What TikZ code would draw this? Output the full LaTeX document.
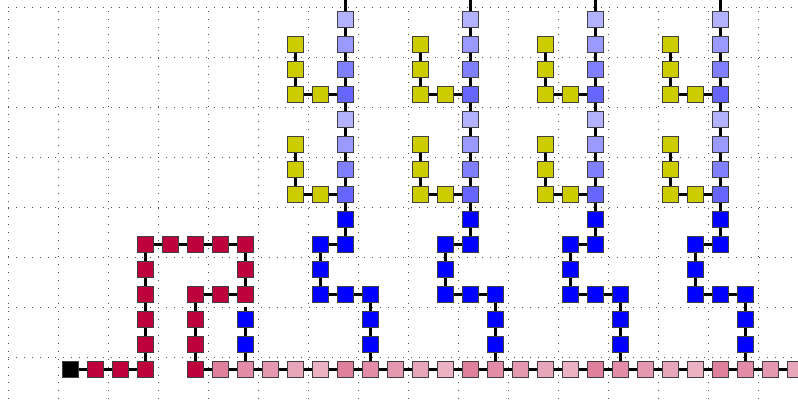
\documentclass[tikz,border=0pt]{standalone}
\usepackage{tikz}
\definecolor{chainred}{RGB}{190,0,60}
\definecolor{sideyellow}{RGB}{204,204,0}
\definecolor{gridgray}{RGB}{80,80,80}

\tikzset{
  cell/.style={draw=black!75, line width=0.6pt, minimum size=0.31cm, inner sep=0pt},
  link/.style={line width=1.8pt},
  gridline/.style={gridgray, line width=0.5pt, dash pattern=on 0.5pt off 4pt}
}
\newcommand{\cellsq}[3]{\node[cell, fill=#3] (s#1-#2) at ({#1+0.5},{-#2-0.5}) {};}

\begin{document}
\begin{tikzpicture}[x=0.5cm, y=0.5cm]
\clip (-0.32,0.28) rectangle (31.6,-15.92);
\draw[gridline] (0,0) grid (32,-16);

\cellsq{2}{14}{black}
\foreach \p/\q in {3/14,4/14,5/14,5/13,5/12,5/11,5/10,5/9,6/9,7/9,8/9,9/9,9/10,9/11,8/11,7/11,7/12,7/13,7/14} {\cellsq{\p}{\q}{chainred}}
\foreach \i in {8,...,31} {
  \pgfmathtruncatemacro\shade{50-5*mod(\i-8,5)}
  \cellsq{\i}{14}{chainred!\shade}
}
\cellsq{9}{12}{blue}
\cellsq{9}{13}{blue}
\coordinate (stub) at (9.5,-12);

\draw[link] (s2-14) -- (s3-14) -- (s4-14) -- (s5-14) -- (s5-13) -- (s5-12) -- (s5-11) -- (s5-10) -- (s5-9) -- (s6-9) -- (s7-9) -- (s8-9) -- (s9-9) -- (s9-10) -- (s9-11) -- (s8-11) -- (s7-11) -- (s7-12) -- (s7-13) -- (s7-14) -- (s8-14);
\foreach \i [evaluate=\i as \nxt using int(\i+1)] in {8,...,30} {\draw[link] (s\i-14) -- (s\nxt-14);}
\draw[link] (stub) -- (s9-12) -- (s9-13) -- (s9-14);

\foreach \c in {13,18,23,28} {
  \pgfmathtruncatemacro\colL{\c-1}
  \pgfmathtruncatemacro\colLL{\c-2}
  \pgfmathtruncatemacro\colR{\c+1}
  \foreach \j/\t in {0/30,1/40,2/50,3/60,4/30,5/40,6/50,7/60} {\cellsq{\c}{\j}{blue!\t}}
  \foreach \j in {1,2,3,5,6,7} {\cellsq{\colLL}{\j}{sideyellow}}
  \cellsq{\colL}{3}{sideyellow}
  \cellsq{\colL}{7}{sideyellow}
  \foreach \p/\q in {\c/8,\c/9,\colL/9,\colL/10,\colL/11,\c/11,\colR/11,\colR/12,\colR/13} {\cellsq{\p}{\q}{blue}}
  \coordinate (top\c) at ({\c+0.5},1);
  \draw[link] (top\c) -- (s\c-0) -- (s\c-1) -- (s\c-2) -- (s\c-3) -- (s\c-4) -- (s\c-5) -- (s\c-6) -- (s\c-7) -- (s\c-8) -- (s\c-9) -- (s\colL-9) -- (s\colL-10) -- (s\colL-11) -- (s\c-11) -- (s\colR-11) -- (s\colR-12) -- (s\colR-13) -- (s\colR-14);
  \draw[link] (s\colLL-1) -- (s\colLL-2) -- (s\colLL-3) -- (s\colL-3) -- (s\c-3);
  \draw[link] (s\colLL-5) -- (s\colLL-6) -- (s\colLL-7) -- (s\colL-7) -- (s\c-7);
}
\end{tikzpicture}
\end{document}
